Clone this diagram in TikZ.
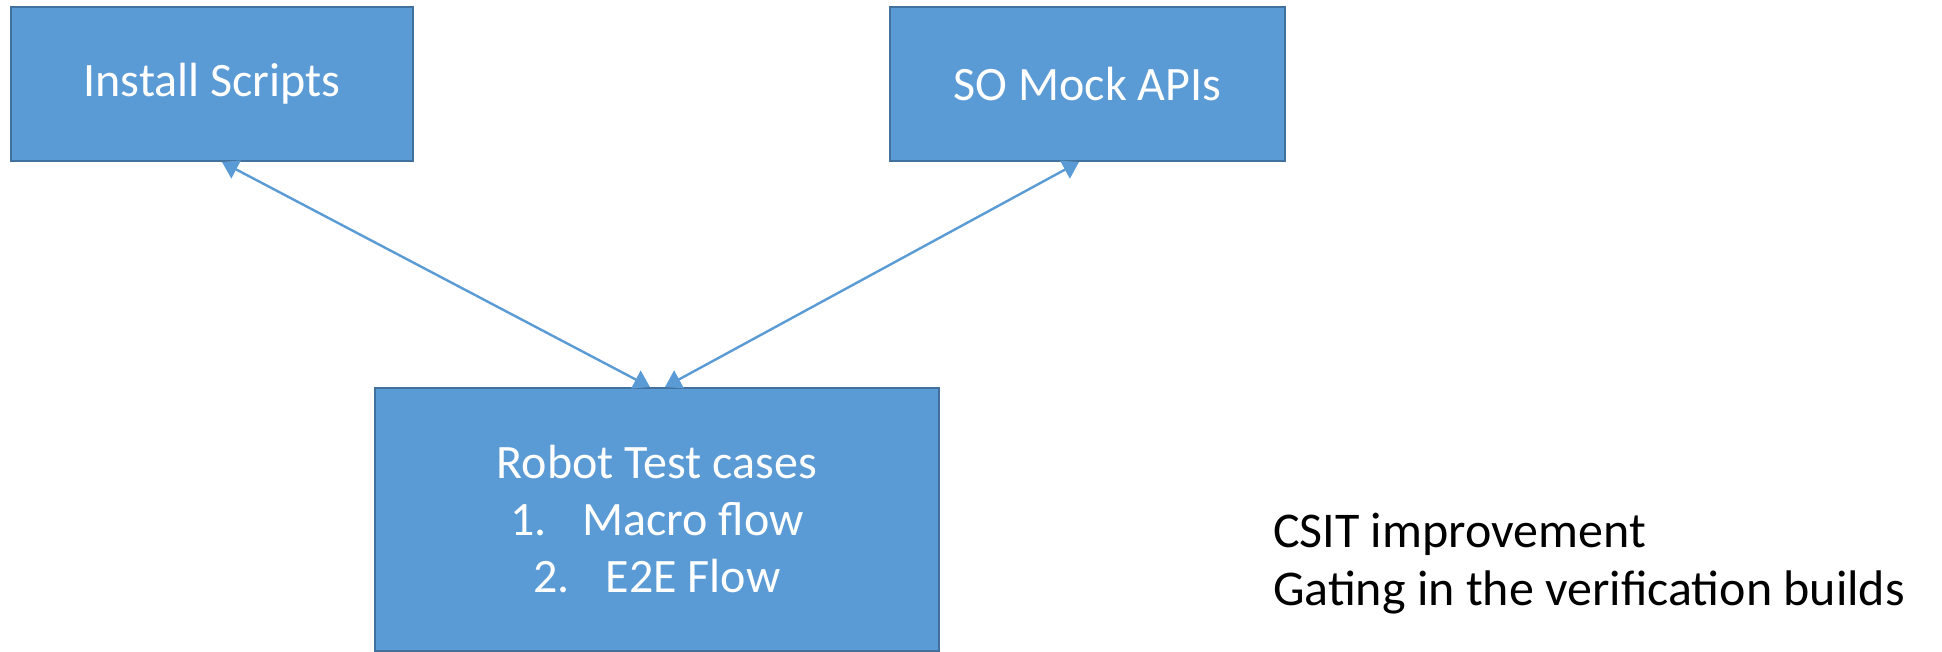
\documentclass[tikz,border=0pt]{standalone}
\usepackage{fontspec}
\setmainfont{Carlito}
\usetikzlibrary{positioning, arrows.meta}
\definecolor{boxblue}{HTML}{5B9BD5}
\definecolor{edgeblue}{HTML}{41719C}
\tikzstyle{block} = [rectangle, minimum height=77pt, draw=edgeblue, line width=1pt, fill=boxblue, text=white, align=center, font=\fontsize{24}{28.5}\selectfont]
\tikzstyle{arrow} = [line width=1.2pt, draw=boxblue, {Triangle[length=8pt,width=10pt]}-{Triangle[length=8pt,width=10pt]}]

\begin{document}
\begin{tikzpicture}[x=0.5pt, y=-0.5pt]
        \useasboundingbox (0,0) rectangle (1942,652);

            \node (install) [block, minimum width=201pt] at (212,84) {Install Scripts};

            \node (somock) [block, minimum width=197.5pt, right=237.5pt of install] {SO Mock APIs};

            \node (robot) [block, minimum width=282pt, minimum height=131.5pt] at (657,519.5) {Robot Test cases \\ 1.\hspace{0.75em}Macro flow \\ 2.\hspace{0.75em}E2E Flow};

            \node (note) [anchor=west, align=left, font=\fontsize{25}{29}\selectfont] at (1266,564) {CSIT improvement \\ Gating in the verification builds};


            \draw [arrow] ([xshift=5pt]install.south) -- ([xshift=-3.5pt]robot.north);
            \draw [arrow] ([xshift=-4.25pt]somock.south) -- ([xshift=4pt]robot.north);

        \end{tikzpicture}
\end{document}
